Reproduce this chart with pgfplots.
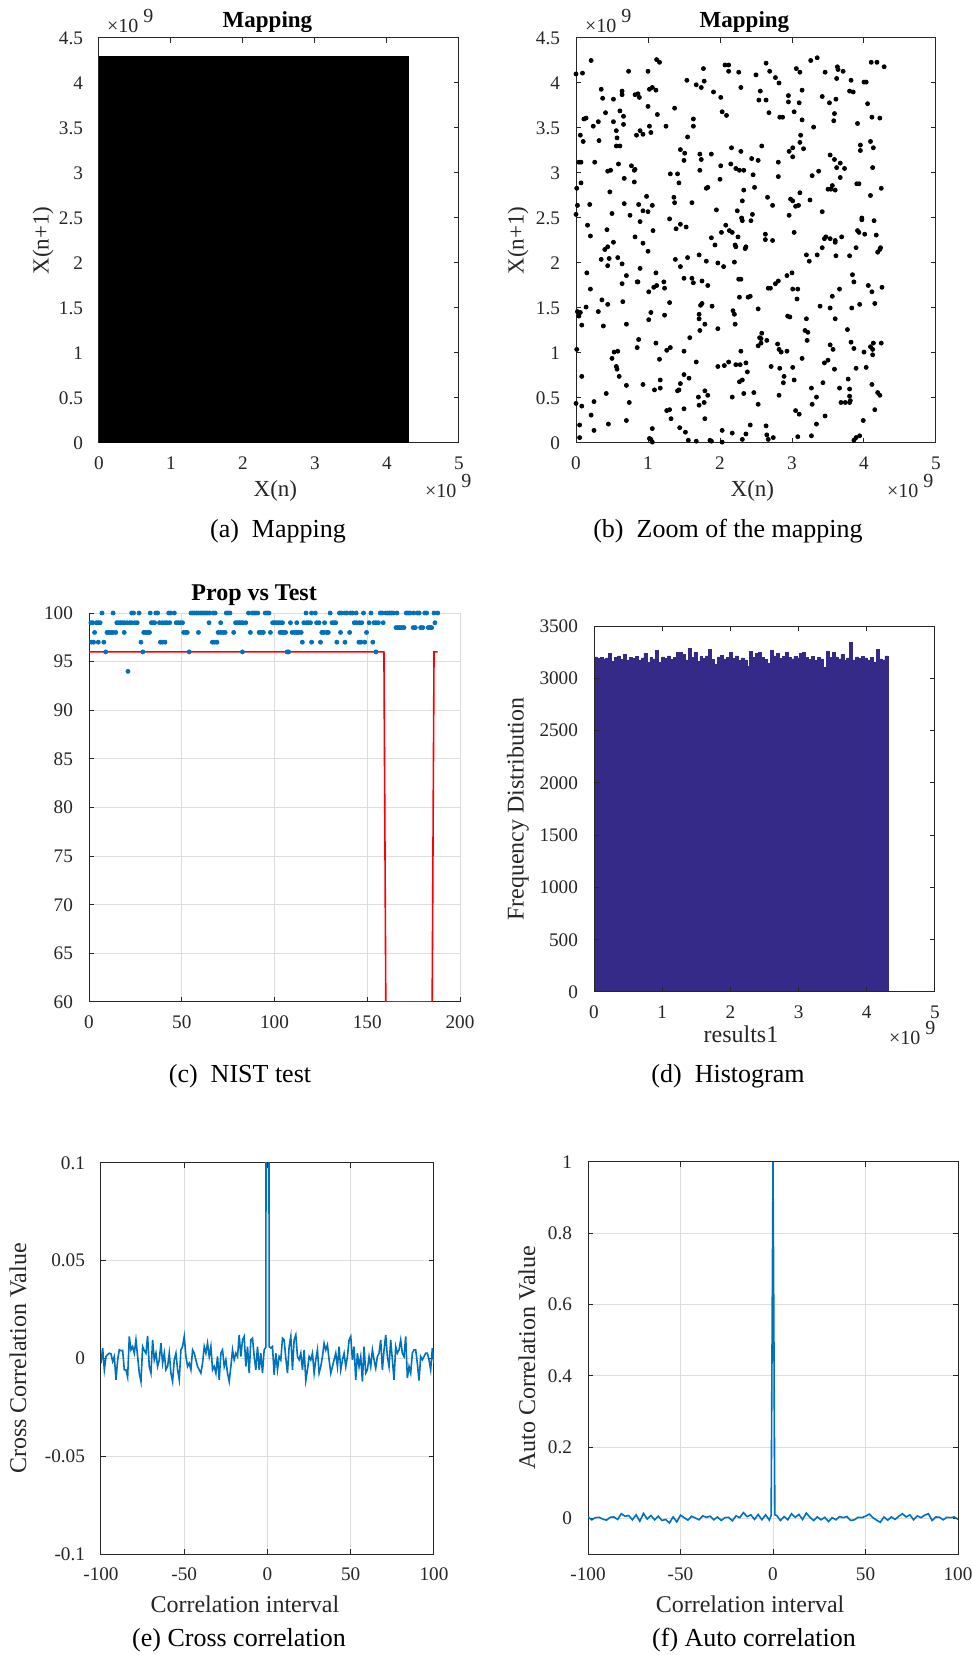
\documentclass[border=0pt]{standalone}
\usepackage{fontspec}
\setmainfont{Liberation Serif}
\usepackage{pgfplots}
\pgfplotsset{compat=1.18}
\definecolor{mblue}{RGB}{0,114,189}
\definecolor{axgray}{RGB}{38,38,38}
\definecolor{gridgray}{RGB}{222,222,222}
\definecolor{histc}{RGB}{53,42,135}
\newcommand{\tenpow}{×10\hspace{2.5pt}\raisebox{5pt}{9}}
\pgfplotsset{
  mstyle/.style={
    scale only axis, anchor=south west,
    axis line style={axgray,line width=0.5pt},
    tick style={axgray,line width=0.5pt},
    major tick length=2.5pt,
    tick align=inside,
    tick label style={font=\fontsize{9.6}{11}\selectfont, text=axgray},
    xticklabel style={yshift=-3.5pt},
    yticklabel style={xshift=-4.5pt},
    label style={font=\fontsize{12}{14}\selectfont, text=axgray},
    /pgf/number format/assume math mode=true,
    /pgf/number format/1000 sep={},
    scaled ticks=false,
    every axis title shift=0pt,
    xlabel style={anchor=center},
    ylabel style={anchor=center},
    grid style={gridgray,line width=0.5pt},
  }
}
\begin{document}
\begin{tikzpicture}
\useasboundingbox (0,0) rectangle (485.5pt,827.5pt);

% ---------------- (a) Mapping
\begin{axis}[mstyle, at={(49.5pt,606pt)}, width=180pt, height=202.5pt,
  xmin=0,xmax=5,ymin=0,ymax=4.5,
  xtick={0,1,2,3,4,5}, ytick={0,0.5,1,1.5,2,2.5,3,3.5,4,4.5},
  title={Mapping}, title style={at={(axis description cs:0.468,1.0395)},anchor=center,font=\fontsize{11.5}{13}\selectfont\bfseries},
  label style={font=\fontsize{11.5}{13}\selectfont},
  xlabel={X(n)}, xlabel style={at={(axis description cs:0.49,-0.1185)}},
  ylabel={X(n+1)}, ylabel style={at={(axis description cs:-0.1556,0.5)}}]
\addplot[draw=black, fill=black] coordinates {(0,4.3) (4.3,4.3)} \closedcycle;
\end{axis}
\node[anchor=base west, font=\fontsize{10}{11}\selectfont, text=axgray] at (50pt,811pt) {\tenpow};
\node[anchor=base west, font=\fontsize{10}{11}\selectfont, text=axgray] at (209pt,578.5pt) {\tenpow};
\node[font=\fontsize{13}{15}\selectfont] at (139pt,562pt) {(a)\ \ Mapping};

% ---------------- (b) Zoom of mapping
\begin{axis}[mstyle, at={(288pt,606pt)}, width=180pt, height=202.5pt,
  xmin=0,xmax=5,ymin=0,ymax=4.5,
  xtick={0,1,2,3,4,5}, ytick={0,0.5,1,1.5,2,2.5,3,3.5,4,4.5},
  title={Mapping}, title style={at={(axis description cs:0.468,1.0395)},anchor=center,font=\fontsize{11.5}{13}\selectfont\bfseries},
  label style={font=\fontsize{11.5}{13}\selectfont},
  xlabel={X(n)}, xlabel style={at={(axis description cs:0.49,-0.1185)}},
  ylabel={X(n+1)}, ylabel style={at={(axis description cs:-0.161,0.5)}}]
\addplot[only marks, mark=*, mark size=1pt, black] coordinates {
(0.21,4.25) (0,4.10) (0.09,4.11) (1.12,4.26) (1.16,4.23) (1.00,4.13) (0.73,4.13) (1.54,4.03) (1.77,4.16) (1.67,3.98) (1.74,3.95) (1.78,4.02) (2.07,4.20) (2.12,4.20) (2.12,4.13) (2.26,4.12) (2.29,3.95) (2.64,4.22) (2.69,4.13) (2.50,4.09) (2.77,4.06) (2.82,4.00) (3.26,4.25) (3.35,4.28) (3.06,4.16) (3.11,4.12) (3.46,4.12) (3.63,4.18) (3.64,4.15) (3.71,4.13) (3.62,4.05) (3.82,4.03) (4.00,4.01) (4.03,4.01) (4.10,4.23) (4.18,4.23) (4.28,4.18) (1.91,3.90) (2.01,3.84) (0.35,3.93) (0.37,3.83) (0.52,3.82) (0.64,3.91) (0.64,3.87) (0.82,3.87) (0.86,3.88) (0.88,3.84) (1.02,3.93) (1.06,3.95) (1.11,3.92) (1.00,3.74) (1.13,3.65) (1.37,3.72) (1.25,3.52) (1.02,3.52) (1.04,3.45) (0.89,3.47) (0.84,3.42) (0.93,3.43) (0.41,3.67) (0.31,3.57) (0.24,3.52) (0.11,3.60) (0.14,3.61) (0.06,3.42) (0.10,3.35) (0.32,3.36) (0.52,3.57) (0.56,3.47) (0.61,3.69) (0.66,3.63) (0.66,3.54) (0.57,3.39) (0.56,3.30) (0.61,3.30) (1.63,3.52) (1.63,3.60) (1.55,3.40) (2.03,3.68) (2.09,3.64) (2.54,3.81) (2.64,3.81) (2.56,3.91) (2.68,3.67) (2.83,3.62) (2.87,3.62) (2.95,3.86) (2.95,3.79) (3.10,3.78) (3.14,3.92) (3.03,3.68) (3.14,3.59) (3.30,3.51) (3.42,3.85) (3.52,3.78) (3.61,3.82) (3.59,3.66) (3.58,3.58) (3.80,3.91) (3.85,3.90) (3.91,3.55) (4.05,3.77) (4.11,3.62) (4.22,3.61) (3.95,3.31) (3.95,3.25) (4.09,3.35) (4.13,3.28) (4.12,3.06) (4.09,2.75) (4.24,2.83) (3.93,2.88) (3.12,3.42) (3.11,3.34) (3.16,3.27) (3.01,3.28) (3.01,3.18) (2.58,3.30) (2.29,3.24) (2.16,3.28) (2.44,3.16) (2.53,3.14) (1.88,3.21) (2.01,3.08) (2.15,3.10) (2.22,3.05) (2.27,3.03) (2.33,3.03) (2.00,2.93) (1.72,3.21) (1.74,3.15) (1.72,3.03) (1.45,3.26) (1.51,3.22) (1.50,3.14) (1.31,2.99) (1.41,2.99) (1.43,2.89) (2.46,2.98) (2.48,2.84) (2.81,3.12) (2.81,2.96) (2.96,3.24) (3.28,2.97) (3.37,3.02) (3.53,3.20) (3.59,3.15) (3.62,3.06) (3.67,3.11) (3.73,3.05) (3.67,2.95) (3.50,2.82) (3.54,2.82) (3.56,2.86) (3.60,2.81) (3.90,2.88) (2.33,2.81) (2.31,2.69) (1.81,2.83) (1.83,2.84) (1.61,2.67) (1.36,2.73) (1.37,2.67) (0.98,2.74) (1.06,2.64) (0.93,2.58) (1.00,2.57) (0.87,2.65) (0.67,2.66) (0.59,3.10) (0.67,2.94) (0.77,3.08) (0.81,3.03) (0.82,3.04) (0.81,2.90) (0.44,3.02) (0.48,3.03) (0.47,2.79) (0.26,3.12) (0.04,3.12) (0.07,3.12) (0.07,2.89) (0.01,2.83) (0.02,2.64) (0.00,2.54) (0.19,2.65) (0.16,2.42) (0.20,2.30) (0.50,2.55) (0.43,2.37) (0.75,2.53) (0.82,2.29) (0.89,2.46) (1.07,2.36) (0.93,2.22) (1.00,2.13) (0.40,2.15) (0.44,2.18) (0.35,2.04) (0.46,2.05) (0.44,1.97) (0.52,2.23) (0.64,1.99) (0.58,2.06) (1.30,2.49) (1.39,2.38) (1.45,2.43) (1.53,2.40) (1.38,2.04) (1.45,1.96) (1.55,2.06) (1.71,2.09) (1.81,2.02) (1.95,2.59) (1.88,2.28) (1.93,2.20) (1.97,2.00) (2.02,2.34) (2.08,2.42) (2.05,1.96) (2.13,2.36) (2.17,2.34) (2.24,2.58) (2.25,2.29) (2.21,2.20) (2.22,2.18) (2.20,2.01) (2.30,2.50) (2.31,2.47) (2.35,2.16) (2.36,2.18) (2.43,2.47) (2.45,2.54) (2.63,2.32) (2.63,2.26) (2.73,2.25) (2.66,2.73) (2.73,2.64) (2.96,2.53) (2.98,2.71) (3.01,2.69) (3.05,2.63) (3.09,2.64) (3.11,2.78) (3.25,2.70) (3.03,2.34) (3.42,2.57) (3.47,2.29) (3.42,2.17) (3.45,2.27) (3.53,2.27) (3.60,2.25) (3.60,2.23) (3.69,2.29) (3.61,2.08) (3.20,2.09) (3.24,2.02) (3.35,2.09) (3.80,2.08) (3.84,1.87) (3.86,1.79) (3.89,2.17) (3.91,2.36) (3.93,2.34) (3.97,2.50) (3.97,2.48) (4.01,2.32) (4.14,2.47) (4.17,2.31) (4.19,2.12) (4.22,2.15) (4.23,2.17) (4.25,1.73) (4.06,1.75) (4.11,1.68) (4.15,1.55) (3.94,1.54) (3.83,1.50) (3.66,1.71) (3.56,1.63) (3.53,1.50) (3.60,1.38) (3.77,1.26) (3.39,1.52) (3.20,1.38) (3.18,1.25) (3.22,1.23) (3.21,1.14) (3.14,0.94) (3.08,1.71) (3.01,1.71) (3.07,1.60) (3.00,1.89) (2.93,1.86) (2.81,1.80) (2.77,1.77) (2.67,1.72) (2.70,1.72) (2.94,1.41) (2.97,1.40) (2.53,1.49) (2.39,1.62) (2.27,1.62) (2.42,1.63) (2.26,1.82) (2.29,1.82) (2.18,1.47) (2.20,1.43) (2.21,1.32) (2.12,0.90) (2.06,0.86) (1.97,0.85) (2.22,0.87) (1.97,1.27) (1.89,1.52) (1.83,1.75) (1.73,1.53) (1.75,1.55) (1.71,1.43) (1.71,1.38) (1.79,1.32) (1.72,1.25) (1.75,1.80) (1.61,1.83) (1.63,1.78) (1.50,1.83) (1.22,1.79) (1.23,1.72) (1.30,1.56) (1.23,1.42) (1.04,1.45) (1.01,1.37) (1.01,1.68) (1.08,1.73) (1.12,1.75) (1.11,1.89) (0.85,1.79) (0.86,1.79) (0.89,1.94) (0.70,1.86) (0.64,1.77) (0.65,1.57) (0.70,1.32) (0.44,1.54) (0.36,1.59) (0.31,1.46) (0.38,1.30) (0.14,1.51) (0.15,1.89) (0.20,1.71) (0.02,1.46) (0.06,1.45) (0.04,1.41) (0.08,1.31) (0.01,1.04) (0.08,0.74) (0.00,0.44) (0.05,0.20) (0.05,0.06) (0.08,0.41) (0.21,0.31) (0.25,0.46) (0.25,0.14) (0.42,0.55) (0.45,0.21) (0.50,0.94) (0.53,1.01) (0.58,1.02) (0.56,0.85) (0.57,0.82) (0.60,0.74) (0.70,0.64) (0.74,0.45) (0.70,0.25) (0.87,1.15) (0.85,1.06) (0.93,0.65) (1.11,1.11) (1.16,0.93) (1.09,0.59) (1.17,0.61) (1.17,0.70) (1.26,1.03) (1.31,1.06) (1.06,0.16) (1.02,0.05) (1.04,0.04) (1.06,0.01) (1.26,0.36) (1.30,0.37) (1.32,0.27) (1.44,0.17) (1.52,0.12) (1.56,0.03) (1.67,0.02) (1.86,0.03) (1.88,0.02) (2.03,0.01) (2.03,0.14) (2.17,0.11) (2.31,0.04) (2.36,0.10) (2.42,0.20) (2.33,0.55) (2.38,0.79) (2.36,0.89) (2.28,0.87) (2.27,0.68) (2.31,0.70) (2.29,1.02) (2.17,0.51) (1.50,1.02) (1.50,0.76) (1.50,0.38) (1.57,0.72) (1.58,1.17) (1.45,0.66) (1.43,0.59) (1.41,0.58) (1.67,0.90) (1.70,0.51) (1.71,0.42) (1.79,0.58) (1.83,0.53) (1.78,0.45) (1.79,0.27) (2.47,0.56) (2.53,0.43) (2.57,1.11) (2.57,1.16) (2.55,1.17) (2.58,1.22) (2.53,1.08) (2.65,1.14) (2.80,1.10) (2.82,1.04) (2.85,1.01) (2.93,1.02) (2.71,0.85) (2.83,0.83) (2.89,0.74) (2.88,0.67) (2.82,0.53) (2.64,0.19) (2.65,0.09) (2.67,0.04) (2.74,0.06) (3.01,0.84) (3.03,0.70) (3.05,0.36) (3.10,0.32) (3.08,0.07) (3.27,0.08) (3.27,0.61) (3.28,0.43) (3.34,0.51) (3.34,0.21) (3.43,0.67) (3.45,0.89) (3.46,0.30) (3.50,0.92) (3.53,1.09) (3.57,1.04) (3.59,0.82) (3.66,0.61) (3.68,0.45) (3.74,0.45) (3.78,0.71) (3.80,0.52) (3.80,0.45) (3.80,0.60) (3.81,0.47) (3.82,1.12) (3.86,1.05) (3.89,0.83) (3.86,0.03) (3.89,0.06) (3.94,0.08) (3.99,0.25) (4.03,0.84) (4.00,1.01) (4.09,1.07) (4.12,1.04) (4.12,0.98) (4.13,1.11) (4.11,0.65) (4.15,0.37) (4.19,0.56) (4.22,0.53) (4.24,1.11)
};
\end{axis}
\node[anchor=base west, font=\fontsize{10}{11}\selectfont, text=axgray] at (289pt,811pt) {\tenpow};
\node[anchor=base west, font=\fontsize{10}{11}\selectfont, text=axgray] at (440pt,578.5pt) {\tenpow};
\node[font=\fontsize{13}{15}\selectfont] at (364pt,562pt) {(b)\ \ Zoom of the mapping};

% ---------------- (c) NIST test
\begin{axis}[mstyle, at={(44.5pt,326.5pt)}, width=185.5pt, height=194.5pt,
  xmin=0,xmax=200,ymin=60,ymax=100,
  axis x line*=bottom, axis y line*=left, tick align=inside,
  xtick={0,50,100,150,200}, ytick={60,65,70,75,80,85,90,95,100},
  grid=major,
  title={Prop vs Test}, title style={at={(axis description cs:0.445,1.046)},anchor=center,font=\fontsize{12}{14}\selectfont\bfseries}]
\addplot[red, line width=0.8pt] coordinates {(0,96) (159,96) (160,60) (185,60) (186,96) (188,96)};
\addplot[only marks, mark=*, mark size=1pt, mblue] coordinates {
(7,100) (13,100) (23,100) (24,100) (27,100) (33,100) (36,100) (37,100) (43,100) (44,100) (46,100) (55,100) (56,100) (57,100) (58,100) (59,100) (60,100) (61,100) (62,100) (63,100) (64,100) (65,100) (67,100) (68,100) (74,100) (75,100) (76,100) (86,100) (88,100) (89,100) (90,100) (91,100) (95,100) (96,100) (97,100) (117,100) (120,100) (122,100) (130,100) (135,100) (136,100) (138,100) (139,100) (141,100) (142,100) (144,100) (148,100) (152,100) (157,100) (158,100) (160,100) (161,100) (162,100) (163,100) (164,100) (166,100) (171,100) (172,100) (173,100) (175,100) (177,100) (178,100) (181,100) (182,100) (186,100) (188,100)
(1,99) (2,99) (4,99) (5,99) (6,99) (15,99) (16,99) (17,99) (18,99) (19,99) (20.5,99) (22,99) (23,99) (24.6,99) (26,99) (33.6,99) (34.5,99) (35.4,99) (38,99) (39.6,99) (41,99) (42,99) (43.5,99) (47,99) (48,99) (49.3,99) (50.4,99) (64.7,99) (71,99) (79,99) (80,99) (81,99) (82,99) (83,99) (84.5,99) (99,99) (100,99) (101,99) (102,99) (103,99) (104.3,99) (108.6,99) (112,99) (115.8,99) (117.3,99) (118.3,99) (119.4,99) (122.7,99) (124,99) (127,99) (131,99) (132,99) (133,99) (143,99) (144.2,99) (145.7,99) (147,99) (151,99) (153.6,99) (154.7,99) (156,99) (158.6,99) (186.5,99)
(165.5,98.5) (166.5,98.5) (167.6,98.5) (168.7,98.5) (169.8,98.5) (174.8,98.5) (175.9,98.5) (178.8,98.5) (179.9,98.5) (182.9,98.5) (183.8,98.5) (184.7,98.5)
(3,98) (9.7,98) (10.8,98) (11.9,98) (12.9,98) (14.4,98) (19,98) (29.5,98) (30.6,98) (31.7,98) (32.6,98) (51,98) (52,98) (53,98) (59,98) (69.6,98) (71,98) (72.3,98) (73.4,98) (78,98) (87,98) (91.7,98) (92.8,98) (94,98) (97.8,98) (103,98) (104,98) (105,98) (106,98) (109.5,98) (110.8,98) (112,98) (113,98) (114.4,98) (125.5,98) (126.6,98) (128,98) (129,98) (135.6,98) (140.5,98) (149.6,98)
(1.4,97) (2.5,97) (5,97) (8,97) (28,97) (38.5,97) (39.6,97) (41,97) (66.5,97) (67.6,97) (69,97) (115,97) (120,97) (124.8,97) (133.6,97) (138,97) (145.5,97) (146.6,97) (148.7,97) (153,97)
(9,96) (29,96) (54,96) (82.7,96) (106.8,96) (107.6,96) (154.7,96)
(21,94)
};
\end{axis}
\node[font=\fontsize{13}{15}\selectfont] at (120pt,289.5pt) {(c)\ \ NIST test};

% ---------------- (d) Histogram
\begin{axis}[mstyle, at={(297pt,331.5pt)}, width=170.5pt, height=183pt,
  xmin=0,xmax=5,ymin=0,ymax=3500,
  xtick={0,1,2,3,4,5}, ytick={0,500,1000,1500,2000,2500,3000,3500},
  axis on top,
  xlabel={results1}, xlabel style={at={(axis description cs:0.431,-0.115)}},
  ylabel={Frequency Distribution}, ylabel style={at={(axis description cs:-0.223,0.5)}}]
\addplot[const plot, fill=histc, draw=histc, line width=0.3pt] coordinates {
(0,3205) (0.0431,3190) (0.0862,3200) (0.1293,3185) (0.1724,3195) (0.2155,3240) (0.2586,3160) (0.3017,3200) (0.3448,3215) (0.3879,3180)
(0.4310,3225) (0.4741,3175) (0.5172,3200) (0.5603,3190) (0.6034,3210) (0.6465,3175) (0.6896,3195) (0.7327,3240) (0.7758,3150) (0.8189,3200)
(0.8620,3185) (0.9051,3265) (0.9482,3150) (0.9913,3205) (1.0344,3190) (1.0775,3215) (1.1206,3180) (1.1637,3200) (1.2068,3250) (1.2499,3245)
(1.2930,3230) (1.3361,3175) (1.3792,3285) (1.4223,3200) (1.4654,3250) (1.5085,3160) (1.5516,3210) (1.5947,3190) (1.6378,3215) (1.6809,3275)
(1.7240,3180) (1.7671,3135) (1.8102,3205) (1.8533,3220) (1.8964,3185) (1.9395,3200) (1.9826,3245) (2.0257,3190) (2.0688,3215) (2.1119,3170)
(2.1550,3195) (2.1981,3175) (2.2412,3115) (2.2843,3255) (2.3274,3200) (2.3705,3240) (2.4136,3250) (2.4567,3200) (2.4998,3180) (2.5429,3145)
(2.5860,3265) (2.6291,3215) (2.6722,3235) (2.7153,3190) (2.7584,3210) (2.8015,3245) (2.8446,3200) (2.8877,3185) (2.9308,3210) (2.9739,3195)
(3.0170,3240) (3.0601,3245) (3.1032,3200) (3.1463,3180) (3.1894,3210) (3.2325,3170) (3.2756,3200) (3.3187,3185) (3.3618,3105) (3.4049,3255)
(3.4480,3200) (3.4911,3250) (3.5342,3205) (3.5773,3185) (3.6204,3225) (3.6635,3170) (3.7066,3195) (3.7497,3340) (3.7928,3175) (3.8359,3205)
(3.8790,3190) (3.9221,3210) (3.9652,3195) (4.0083,3175) (4.0514,3200) (4.0945,3155) (4.1376,3275) (4.1807,3185) (4.2238,3175) (4.2669,3215)
(4.3100,3215)
} \closedcycle;
\end{axis}
\node[anchor=base west, font=\fontsize{10}{11}\selectfont, text=axgray] at (441pt,305pt) {\tenpow};
\node[font=\fontsize{13}{15}\selectfont] at (364pt,289.5pt) {(d)\ \ Histogram};

% ---------------- (e) Cross correlation
\begin{axis}[mstyle, at={(50.5pt,50.5pt)}, width=166.5pt, height=195.5pt,
  xmin=-100,xmax=100,ymin=-0.1,ymax=0.1,
  xtick={-100,-50,0,50,100}, xticklabels={-100,-50,0,50,100},
  ytick={-0.1,-0.05,0,0.05,0.1}, yticklabels={-0.1,-0.05,0,0.05,0.1},
  grid=major,
  xlabel={Correlation interval}, xlabel style={at={(axis description cs:0.432,-0.128)}},
  ylabel={Cross Correlation Value}, ylabel style={at={(axis description cs:-0.249,0.5)}}]
\addplot[mblue, line width=0.8pt] coordinates {
(-100,-0.0024) (-99,0.0053) (-98,-0.0058) (-97,0.0010) (-96,0.0020) (-95,0.0027) (-94,0.0024) (-93,-0.0015) (-92,0.0010) (-91,-0.0109) (-90,-0.0007) (-89,0.0044) (-88,0.0040) (-87,0.0041) (-86,-0.0058) (-85,-0.0058) (-84,-0.0095) (-83,0.0113) (-82,0.0044) (-81,0.0061) (-80,0.0027) (-79,0.0095) (-78,0.0010) (-77,-0.0075) (-76,-0.0118) (-75,0.0061) (-74,0.0040) (-73,0.0027) (-72,0.0116) (-71,-0.0041) (-70,-0.0075) (-69,0.0095) (-68,-0.0007) (-67,0.0027) (-66,-0.0041) (-65,-0.0007) (-64,0.0078) (-63,-0.0024) (-62,0.0027) (-61,-0.0058) (-60,-0.0041) (-59,0.0027) (-58,-0.0075) (-57,-0.0118) (-56,-0.0007) (-55,0.0027) (-54,-0.0058) (-53,-0.0109) (-52,0.0044) (-51,0.0061) (-50,0.0113) (-49,0.0010) (-48,-0.0041) (-47,-0.0024) (-46,-0.0058) (-45,0.0044) (-44,0.0027) (-43,-0.0007) (-42,-0.0041) (-41,-0.0058) (-40,-0.0075) (-39,-0.0024) (-38,0.0061) (-37,0.0027) (-36,0.0078) (-35,0.0010) (-34,0.0061) (-33,-0.0058) (-32,-0.0041) (-31,-0.0075) (-30,0.0010) (-29,-0.0109) (-28,0.0027) (-27,0.0044) (-26,-0.0041) (-25,-0.0007) (-24,-0.0075) (-23,-0.0118) (-22,-0.0041) (-21,0.0044) (-20,-0.0007) (-19,0.0027) (-18,0.0010) (-17,0.0121) (-16,0.0010) (-15,0.0095) (-14,0.0113) (-13,-0.0041) (-12,0.0061) (-11,-0.0075) (-10,0.0095) (-9,0.0104) (-8,0.0010) (-7,-0.0058) (-6,0.0061) (-5,-0.0058) (-4,0.0027) (-3,-0.0075) (-2,0.0044) (-1,0.0058) (0,1) (1,0.0061) (2,0.0053) (3,0.0061) (4,-0.0084) (5,0.0027) (6,-0.0058) (7,0.0010) (8,-0.0007) (9,0.0104) (10,0.0095) (11,0.0002) (12,-0.0075) (13,0.0061) (14,0.0113) (15,-0.0058) (16,0.0095) (17,0.0121) (18,0.0010) (19,-0.0007) (20,0.0027) (21,-0.0058) (22,0.0044) (23,-0.0113) (24,-0.0058) (25,0.0010) (26,-0.0007) (27,0.0027) (28,-0.0075) (29,-0.0007) (30,0.0044) (31,-0.0075) (32,-0.0041) (33,0.0010) (34,0.0078) (35,0.0044) (36,0.0070) (37,-0.0007) (38,-0.0075) (39,-0.0041) (40,-0.0007) (41,0.0027) (42,-0.0041) (43,0.0061) (44,-0.0058) (45,-0.0007) (46,0.0027) (47,-0.0041) (48,0.0010) (49,0.0095) (50,0.0113) (51,-0.0007) (52,0.0061) (53,-0.0109) (54,0.0027) (55,-0.0041) (56,0.0010) (57,-0.0118) (58,0.0061) (59,-0.0075) (60,-0.0058) (61,0.0010) (62,-0.0041) (63,0.0044) (64,-0.0007) (65,-0.0049) (66,0.0010) (67,0.0027) (68,0.0095) (69,-0.0058) (70,0.0044) (71,0.0121) (72,0.0010) (73,-0.0041) (74,0.0095) (75,-0.0007) (76,-0.0109) (77,0.0061) (78,0.0027) (79,0.0044) (80,0.0095) (81,0.0027) (82,0.0010) (83,0.0113) (84,-0.0100) (85,-0.0041) (86,-0.0075) (87,0.0027) (88,0.0044) (89,0.0044) (90,-0.0024) (91,-0.0113) (92,0.0010) (93,-0.0007) (94,0.0010) (95,0.0027) (96,0.0027) (97,-0.0007) (98,-0.0058) (99,0.0053) (100,-0.0024)
};
\end{axis}
\node[font=\fontsize{13}{15}\selectfont] at (119.5pt,7.5pt) {(e) Cross correlation};

% ---------------- (f) Auto correlation
\begin{axis}[mstyle, at={(294pt,50.5pt)}, width=185pt, height=196pt,
  xmin=-100,xmax=100,ymin=-0.1,ymax=1,
  xtick={-100,-50,0,50,100}, xticklabels={-100,-50,0,50,100},
  ytick={0,0.2,0.4,0.6,0.8,1}, yticklabels={0,0.2,0.4,0.6,0.8,1},
  grid=major,
  xlabel={Correlation interval}, xlabel style={at={(axis description cs:0.438,-0.1276)}},
  ylabel={Auto Correlation Value}, ylabel style={at={(axis description cs:-0.165,0.5)}}]
\addplot[mblue, line width=0.8pt] coordinates {
(-100,0.004) (-98,-0.004) (-96,0.002) (-94,0.003) (-92,-0.002) (-90,-0.005) (-88,0.003) (-86,0.004) (-84,-0.003) (-82,0.013) (-80,0.006) (-78,0.008) (-76,-0.004) (-74,0.010) (-72,-0.008) (-70,0.014) (-68,-0.002) (-66,0.008) (-64,-0.004) (-62,0.006) (-60,-0.006) (-58,-0.003) (-56,-0.013) (-54,0.004) (-52,-0.010) (-50,0.009) (-48,0.002) (-46,-0.005) (-44,0.006) (-42,0.001) (-40,-0.004) (-38,0.007) (-36,0.003) (-34,0.006) (-32,-0.004) (-30,0.004) (-28,-0.006) (-26,0.002) (-24,0.003) (-22,-0.007) (-20,0.007) (-18,0.002) (-16,0.016) (-14,0.005) (-12,0.010) (-10,-0.003) (-8,0.011) (-6,-0.004) (-4,0.010) (-2,-0.005) (-1,0.008) (0,1) (1,0.010) (2,0.008) (4,-0.006) (6,0.005) (8,-0.004) (10,0.013) (12,0.003) (14,0.011) (16,-0.003) (18,0.015) (20,0.003) (22,-0.006) (24,0.004) (26,-0.004) (28,0.003) (30,-0.009) (32,0.002) (34,-0.004) (36,0.005) (38,0.002) (40,0.005) (42,-0.006) (44,-0.004) (46,0.003) (48,0.002) (50,0.006) (52,0.012) (54,0.002) (56,-0.005) (58,-0.011) (60,0.004) (62,-0.005) (64,0.004) (66,-0.003) (68,0.006) (70,0.013) (72,0.004) (74,0.010) (76,-0.004) (78,0.007) (80,0.002) (82,0.009) (84,0.013) (86,-0.006) (88,0.004) (90,0.003) (92,-0.004) (94,0.003) (96,0.002) (98,0.004) (100,-0.003)
};
\end{axis}
\node[font=\fontsize{13}{15}\selectfont] at (377pt,7.5pt) {(f) Auto correlation};
\end{tikzpicture}
\end{document}
